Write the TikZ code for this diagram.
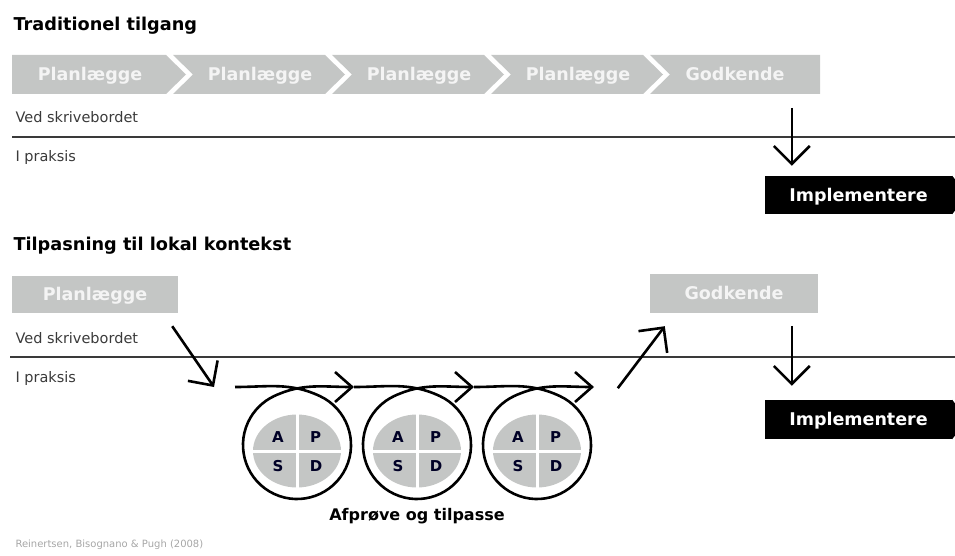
\documentclass[tikz,border=0pt]{standalone}
\usepackage{fontspec}
\setmainfont{DejaVu Sans}
\usetikzlibrary{calc,positioning,arrows.meta,shapes.geometric}

\definecolor{boxgray}{HTML}{C4C6C5}
\definecolor{boxtextgray}{HTML}{F4F4F4}
\definecolor{labelgray}{HTML}{3A3A3A}

\begin{document}
\begin{tikzpicture}[x=1pt,y=1pt,
    heading/.style={anchor=base west,font=\bfseries\fontsize{17.7}{21}\selectfont},
    boxtext/.style={text=boxtextgray,inner sep=0pt,text height=12.7pt,text depth=0pt,font=\bfseries\fontsize{17.5}{20}\selectfont},
    graybox/.style={rectangle,fill=boxgray,boxtext},
    blackbox/.style={rectangle,fill=black,text=white,inner sep=0pt,minimum width=187pt,text height=12.7pt,text depth=0pt,font=\bfseries\fontsize{17.5}{20}\selectfont},
    side/.style={anchor=base west,text=labelgray,font=\fontsize{14.5}{17}\selectfont},
    divider/.style={line width=1.5pt,draw=labelgray},
    arrow/.style={line width=2.6pt,-{Straight Barb[length=18pt,width=36pt]}},
    loopline/.style={line width=2.6pt,-{Straight Barb[length=17pt,width=30pt]}},
    pdca/.style={ellipse,fill=boxgray,minimum width=88pt,minimum height=73pt,inner sep=0pt},
    letter/.style={inner sep=0pt,text height=10.9pt,text depth=0pt,text=black!85!blue,font=\bfseries\fontsize{15}{18}\selectfont}
  ]

  \useasboundingbox (0,0) rectangle (955,-556);
  \clip (0,0) rectangle (955,-556);

  % traditionel tilgang
  \node(title1) [heading] at (10,-31) {Traditionel tilgang};

  \fill[boxgray] (12,-55) -- (166,-55) -- (186,-74.5) -- (166,-94) -- (12,-94) -- cycle;
  \foreach \s in {173,332,491}
    \fill[boxgray] (\s,-55) -- (\s+152,-55) -- (\s+172,-74.5) -- (\s+152,-94) -- (\s,-94) -- (\s+20,-74.5) -- cycle;
  \fill[boxgray] (650,-55) -- (820,-55) -- (820,-94) -- (650,-94) -- (670,-74.5) -- cycle;

  \foreach \x [count=\i] in {90,260,419,578}
    \node(plan\i) [boxtext] at (\x,-74.5) {Planlægge};
  \node(godk1) [boxtext] at (735,-74.5) {Godkende};

  \node(desk1) [side] at (12,-123) {Ved skrivebordet};
  \draw[divider] (12,-137) -- (955,-137);
  \node(field1) [side] at (12,-162) {I praksis};

  \node(impl1) [blackbox,minimum height=38pt] at (858.5,-195) {Implementere};
  \fill (impl1.north east) -- ++(15,-19) -- (impl1.south east) -- cycle;
  \draw[arrow] ([xshift=27pt,yshift=68pt]impl1.north west) -- ([xshift=27pt,yshift=10pt]impl1.north west);

  % tilpasning til lokal kontekst
  \node(title2) [heading] at (10,-250) {Tilpasning til lokal kontekst};

  \node(plan5) [graybox,minimum width=166pt,minimum height=37pt] at (95,-294.5) {Planlægge};
  \node(godk2) [graybox,minimum width=168pt,minimum height=39pt] at (734,-293.5) {Godkende};

  \node(desk2) [side] at (12,-343) {Ved skrivebordet};
  \draw[divider] (10,-357) -- (955,-357);
  \node(field2) [side] at (12,-382) {I praksis};

  \node(impl2) [blackbox,minimum height=39pt] at (858.5,-419.5) {Implementere};
  \fill (impl2.north east) -- ++(15,-19.5) -- (impl2.south east) -- cycle;

  \coordinate(loopstart) at (235,-387);
  \draw[arrow] ([xshift=-6pt,yshift=-13pt]plan5.south east) -- ([xshift=-21pt]loopstart);

  \foreach \x/\from [count=\i] in {297/loopstart,417/tip1,537/tip2} {
    \node(pdca\i) [pdca] at (\x,-451) {};
    \draw[white,line width=3pt] (pdca\i.north) -- (pdca\i.south);
    \draw[white,line width=3pt] (pdca\i.west) -- (pdca\i.east);
    \node [letter] at ($(pdca\i)+(-19,14)$) {A};
    \node [letter] at ($(pdca\i)+(18.5,14)$) {P};
    \node [letter] at ($(pdca\i)+(-19,-15.5)$) {S};
    \node [letter] at ($(pdca\i)+(19,-15.5)$) {D};
    \coordinate(tip\i) at (\x+57,-387);
    \draw[loopline] (\from) to[out=0,in=155] ($(\x,-445)+(65:54)$)
      arc[start angle=65,end angle=-245,radius=54]
      to[out=25,in=180] (tip\i);
  }

  \draw[arrow] ([xshift=-32pt,yshift=-75pt]godk2.south west) -- ([xshift=15pt,yshift=-13pt]godk2.south west);
  \draw[arrow] ([xshift=27pt,yshift=74pt]impl2.north west) -- ([xshift=27pt,yshift=14pt]impl2.north west);

  \node(caption) [anchor=base,font=\bfseries\fontsize{16}{19}\selectfont] at (417,-520) {Afprøve og tilpasse};
  \node(source) [anchor=base west,text=black!35,font=\fontsize{10}{12}\selectfont] at (12,-547) {Reinertsen, Bisognano \& Pugh (2008)};

\end{tikzpicture}
\end{document}
